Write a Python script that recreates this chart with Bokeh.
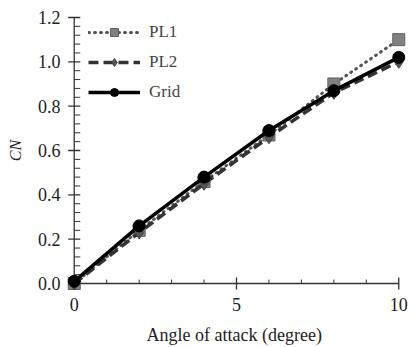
from bokeh.plotting import figure
from bokeh.models import Range1d, Legend, LegendItem, FixedTicker, CustomJSTickFormatter
from bokeh.embed import file_html
from bokeh.resources import INLINE

angle = [0, 2, 4, 6, 8, 10]
pl1 = [0.00, 0.24, 0.46, 0.67, 0.90, 1.10]
pl2 = [0.00, 0.23, 0.45, 0.66, 0.86, 1.00]
grid = [0.01, 0.26, 0.48, 0.69, 0.87, 1.02]

x_ticks = [0, 5, 10]
x_minor = [1, 2, 3, 4, 6, 7, 8, 9]
y_ticks = [0, 0.2, 0.4, 0.6, 0.8, 1.0, 1.2]
y_minor = [round(i * 0.04, 2) for i in range(31) if i % 5 != 0]

X0, X1, Y0, Y1 = 0, 10, 0, 1.2
# x scale: 32.4 px/unit; y scale: 222.5 px/unit
PXX = 1 / 32.4
PXY = 1 / 222.5

p = figure(width=409, height=347, output_backend="svg", toolbar_location=None,
           x_range=Range1d(-0.3, 10.3), y_range=Range1d(-0.045, 1.245),
           min_border_left=64, min_border_right=1, min_border_top=7, min_border_bottom=53)
p.outline_line_color = None
p.grid.visible = False

FONT = "Liberation Serif"
p.xaxis.ticker = FixedTicker(ticks=x_ticks, minor_ticks=[])
p.yaxis.ticker = FixedTicker(ticks=y_ticks, minor_ticks=[])
p.yaxis.formatter = CustomJSTickFormatter(code="return tick.toFixed(1);")
for ax in (p.xaxis, p.yaxis):
    ax.axis_line_color = None
    ax.major_tick_line_color = None
    ax.minor_tick_line_color = None
    ax.major_tick_out = 0
    ax.major_tick_in = 0
    ax.minor_tick_out = 0
    ax.major_label_text_font = FONT
    ax.major_label_text_font_size = "18px"
    ax.major_label_text_color = "#222222"
    ax.axis_label_text_font = FONT
    ax.axis_label_text_color = "#222222"
    ax.axis_label_text_font_style = "normal"
p.xaxis.major_label_standoff = 4
p.yaxis.major_label_standoff = 4
p.xaxis.axis_label = "Angle  of attack (degree)"
p.xaxis.axis_label_text_font_size = "18px"
p.xaxis.axis_label_standoff = 11
p.yaxis.axis_label = "CN"
p.yaxis.axis_label_text_font_size = "16px"
p.yaxis.axis_label_text_font_style = "italic"
p.yaxis.axis_label_standoff = 11

AX = "#333333"
# axis lines
p.segment(x0=[X0, X0], y0=[Y0, Y0], x1=[X0, X1], y1=[Y1, Y0], line_color=AX, line_width=1.3)
# y ticks
p.segment(x0=[X0 - 6 * PXX] * len(y_ticks), y0=y_ticks, x1=[X0 + 6 * PXX] * len(y_ticks), y1=y_ticks,
          line_color=AX, line_width=1.3)
p.segment(x0=[X0] * len(y_minor), y0=y_minor, x1=[X0 + 6 * PXX] * len(y_minor), y1=y_minor,
          line_color=AX, line_width=1)
# x ticks
p.segment(x0=x_ticks, y0=[Y0 - 6 * PXY] * len(x_ticks), x1=x_ticks, y1=[Y0 + 6 * PXY] * len(x_ticks),
          line_color=AX, line_width=1.3)
p.segment(x0=x_minor, y0=[Y0] * len(x_minor), x1=x_minor, y1=[Y0 + 4 * PXY] * len(x_minor),
          line_color=AX, line_width=1)

l1 = p.line(angle, pl1, line_color="#555555", line_width=3, line_dash="1 5", line_cap="round")
m1 = p.scatter(angle, pl1, marker="square", size=12, fill_color="#808080", line_color="#606060")
l2 = p.line(angle, pl2, line_color="#333333", line_width=3.5, line_dash="10 5")
m2 = p.scatter(angle, pl2, marker="diamond", size=13, fill_color="#555555", line_color="#444444")
l3 = p.line(angle, grid, line_color="#000000", line_width=3.5)
m3 = p.scatter(angle, grid, marker="circle", size=12, fill_color="#000000", line_color="#000000")

legend = Legend(items=[LegendItem(label="PL1", renderers=[l1, m1]),
                       LegendItem(label="PL2", renderers=[l2, m2]),
                       LegendItem(label="Grid", renderers=[l3, m3])],
                border_line_color=None, background_fill_alpha=0,
                label_text_font=FONT, label_text_font_size="17px", glyph_width=52,
                glyph_height=20, spacing=10, margin=0, padding=0, label_standoff=9)
legend.location = (24, 191)
p.add_layout(legend)

open("out.html", "w").write(file_html(p, INLINE))
